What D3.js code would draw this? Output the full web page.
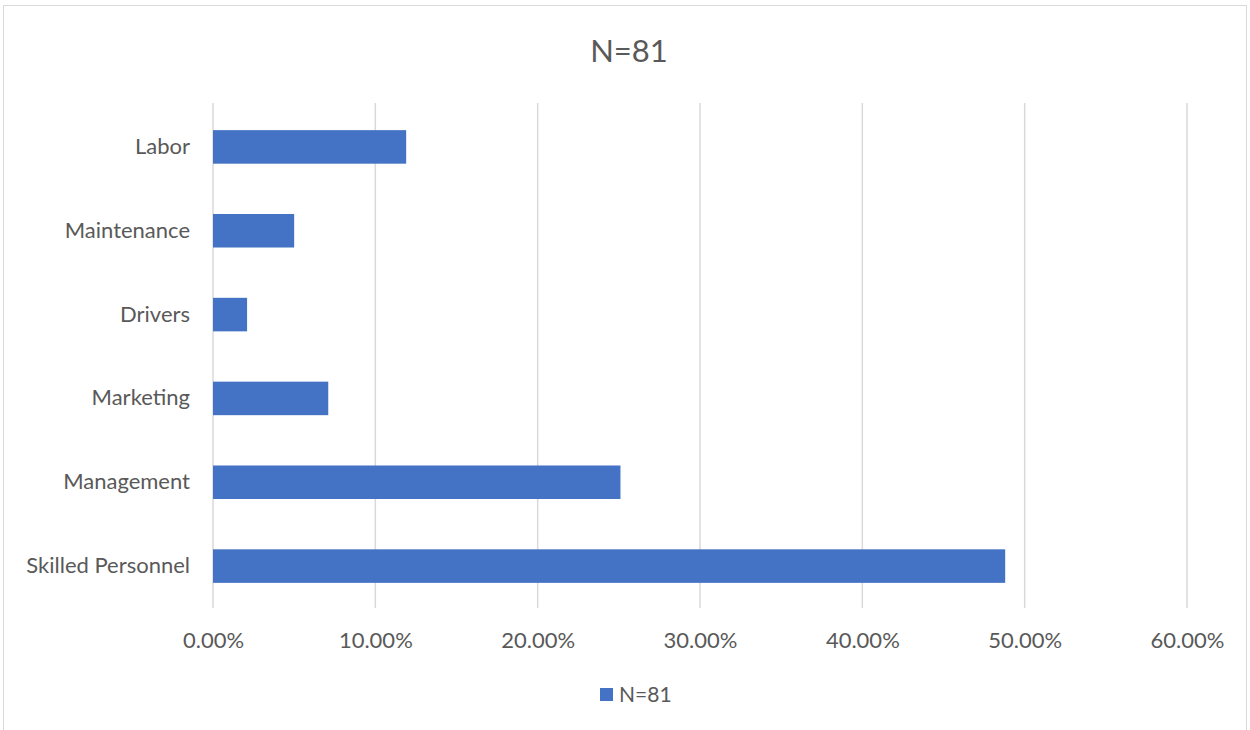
<!DOCTYPE html>
<html>
<head>
<meta charset="utf-8">
<script src="https://cdn.jsdelivr.net/npm/d3@7"></script>
<style>
  html, body { margin: 0; padding: 0; background: #fff; }
  svg { display: block; }
  text { font-family: Lato, "Open Sans", sans-serif; fill: #595959; }
</style>
</head>
<body>
<svg id="chart" width="1250" height="730"></svg>
<script>
// Share of respondents by job category (N=81)
const categories = ["Labor", "Maintenance", "Drivers", "Marketing", "Management", "Skilled Personnel"];
const shares = [0.119, 0.050, 0.021, 0.071, 0.251, 0.488];
const tickValues = [0, 0.1, 0.2, 0.3, 0.4, 0.5, 0.6];
const seriesName = "N=81";
const chartTitle = "N=81";

const svg = d3.select("#chart");
const plotTop = 103, plotBottom = 608;

// chart frame
svg.append("rect")
  .attr("x", 3.5).attr("y", 5.5)
  .attr("width", 1243).attr("height", 740)
  .attr("fill", "none").attr("stroke", "#d9d9d9").attr("stroke-width", 1);

const x = d3.scaleLinear().domain([0, 0.6]).range([213, 1187]);
const y = d3.scaleBand().domain(categories)
  .range([105, 608])
  .paddingInner(0.6).paddingOuter(0.3);

// vertical gridlines
svg.append("g")
  .selectAll("line")
  .data(tickValues)
  .join("line")
  .attr("x1", d => x(d)).attr("x2", d => x(d))
  .attr("y1", plotTop).attr("y2", plotBottom)
  .attr("stroke", "#d9d9d9").attr("stroke-width", 1.5);

// x-axis tick labels
const xAxis = d3.axisBottom(x).tickValues(tickValues)
  .tickFormat(d3.format(".2%")).tickSize(0).tickPadding(0);
const gx = svg.append("g")
  .attr("transform", `translate(0,${plotBottom + 24})`)
  .call(xAxis);
gx.select(".domain").remove();
gx.selectAll("text")
  .attr("dy", "0.71em")
  .style("font-size", "22px")
  .style("font-family", "Lato, 'Open Sans', sans-serif")
  .attr("fill", "#595959");

// y-axis category labels
const yAxis = d3.axisLeft(y).tickSize(0).tickPadding(23);
const gy = svg.append("g")
  .attr("transform", `translate(213,0)`)
  .call(yAxis);
gy.select(".domain").remove();
gy.selectAll("text")
  .style("font-size", "22px")
  .style("font-family", "Lato, 'Open Sans', sans-serif")
  .attr("fill", "#595959");

// bars
svg.append("g")
  .selectAll("rect")
  .data(categories.map((c, i) => ({ c, v: shares[i] })))
  .join("rect")
  .attr("x", x(0))
  .attr("y", d => y(d.c))
  .attr("width", d => x(d.v) - x(0))
  .attr("height", y.bandwidth())
  .attr("fill", "#4472c4");

// title
svg.append("text")
  .attr("x", 629).attr("y", 62)
  .attr("text-anchor", "middle")
  .style("font-size", "31px")
  .text(chartTitle);

// legend
const lg = svg.append("g").attr("transform", "translate(600,688)");
lg.append("rect").attr("width", 13).attr("height", 13).attr("fill", "#4472c4");
lg.append("text").attr("x", 19).attr("y", 13.5)
  .style("font-size", "21px")
  .text(seriesName);
</script>
</body>
</html>
